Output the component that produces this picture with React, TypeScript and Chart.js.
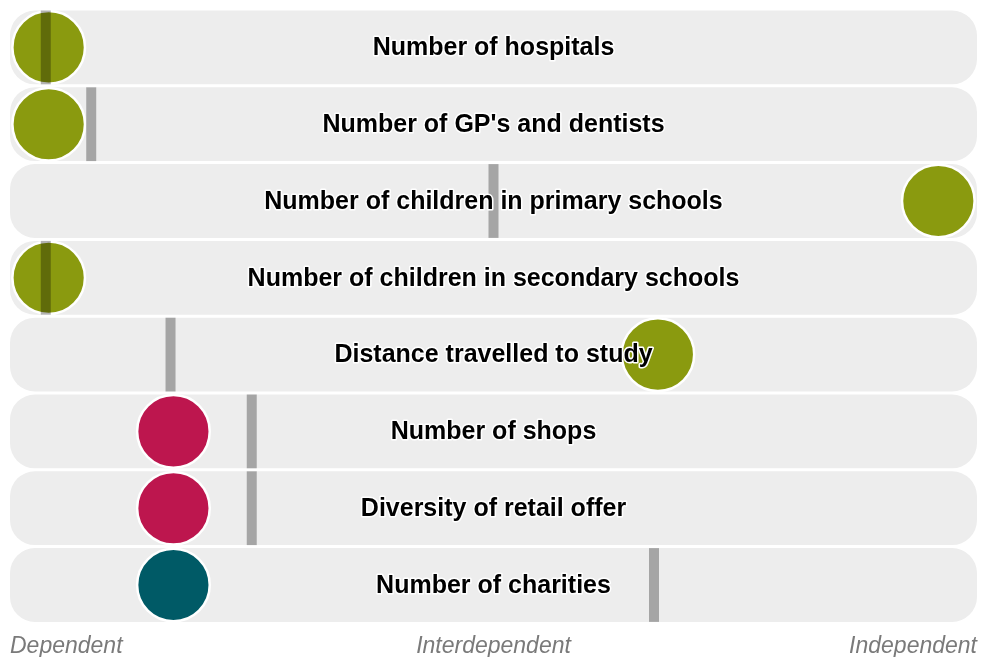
import React, { useEffect, useRef } from "react";
import { Chart, registerables } from "chart.js";

Chart.register(...registerables);

const categories = [
  "Number of hospitals",
  "Number of GP's and dentists",
  "Number of children in primary schools",
  "Number of children in secondary schools",
  "Distance travelled to study",
  "Number of shops",
  "Diversity of retail offer",
  "Number of charities",
];
const circleValues = [4.0, 4.0, 96.0, 4.0, 67.0, 16.9, 16.9, 16.9];
const markerValues = [3.7, 8.4, 50.0, 3.7, 16.6, 25.0, 25.0, 66.6];
const circleColors = [
  "#8a9a0f",
  "#8a9a0f",
  "#8a9a0f",
  "#8a9a0f",
  "#8a9a0f",
  "#bd164e",
  "#bd164e",
  "#005a66",
];
const axisTicks = [0, 50, 100];
const axisLabels = ["Dependent", "Interdependent", "Independent"];

const FONT = "'Liberation Sans', Arial, sans-serif";

const labelPlugin = {
  id: "rowLabels",
  afterDatasetsDraw(chart: any) {
    const { ctx, scales } = chart;
    const xs = scales.x;
    const ys = scales.y;
    const cx = (xs.getPixelForValue(0) + xs.getPixelForValue(100)) / 2;
    ctx.save();
    ctx.font = `bold 25px ${FONT}`;
    ctx.textAlign = "center";
    ctx.textBaseline = "middle";
    ctx.lineJoin = "round";
    categories.forEach((c, i) => {
      const y = ys.getPixelForValue(i) + 1;
      ctx.strokeStyle = "#ffffff";
      ctx.lineWidth = 3;
      ctx.strokeText(c, cx, y);
      ctx.fillStyle = "#000000";
      ctx.fillText(c, cx, y);
    });
    ctx.restore();
  },
};

export default function App() {
  const ref = useRef<HTMLCanvasElement | null>(null);
  useEffect(() => {
    if (!ref.current) return;
    const chart = new Chart(ref.current, {
      type: "bar",
      data: {
        labels: categories,
        datasets: [
          {
            type: "bar",
            data: categories.map(() => [0, 100]) as any,
            backgroundColor: "#ededed",
            borderRadius: 25,
            borderSkipped: false,
            categoryPercentage: 1,
            barPercentage: 0.961,
            order: 3,
          } as any,
          {
            type: "scatter",
            data: categories.map((c, i) => ({ x: circleValues[i], y: c })) as any,
            pointRadius: 36.3,
            pointBackgroundColor: circleColors,
            pointBorderColor: "#ffffff",
            pointBorderWidth: 2.5,
            clip: false,
            order: 2,
          } as any,
          {
            type: "scatter",
            data: categories.map((c, i) => ({ x: markerValues[i], y: c })) as any,
            pointStyle: "line",
            rotation: 90,
            pointRadius: 36.9,
            pointBorderColor: "rgba(0,0,0,0.3)",
            pointBorderWidth: 10,
            clip: false,
            order: 1,
          } as any,
        ],
      },
      options: {
        indexAxis: "y",
        animation: false,
        responsive: true,
        maintainAspectRatio: false,
        layout: { autoPadding: false, padding: { left: 10, right: 4, top: 9, bottom: -12 } },
        plugins: { legend: { display: false }, tooltip: { enabled: false } },
        scales: {
          x: {
            type: "linear",
            min: 0,
            max: 100,
            grid: { display: false, drawTicks: false },
            border: { display: false },
            afterBuildTicks: (scale: any) => {
              scale.ticks = axisTicks.map((v) => ({ value: v }));
            },
            afterFit: (scale: any) => {
              scale.paddingLeft = 0;
              scale.paddingRight = 0;
            },
            ticks: {
              align: "inner",
              padding: 9,
              color: "#7a7a7a",
              font: { family: FONT, size: 23, style: "italic" },
              callback: (_v: any, i: number) => axisLabels[i],
              maxRotation: 0,
              autoSkip: false,
            },
          },
          y: {
            type: "category",
            display: false,
          },
        },
      } as any,
      plugins: [labelPlugin],
    });
    return () => chart.destroy();
  }, []);
  return (
    <div style={{ position: "absolute", left: 0, top: 0, width: 981, height: 657 }}>
      <canvas ref={ref} />
    </div>
  );
}
